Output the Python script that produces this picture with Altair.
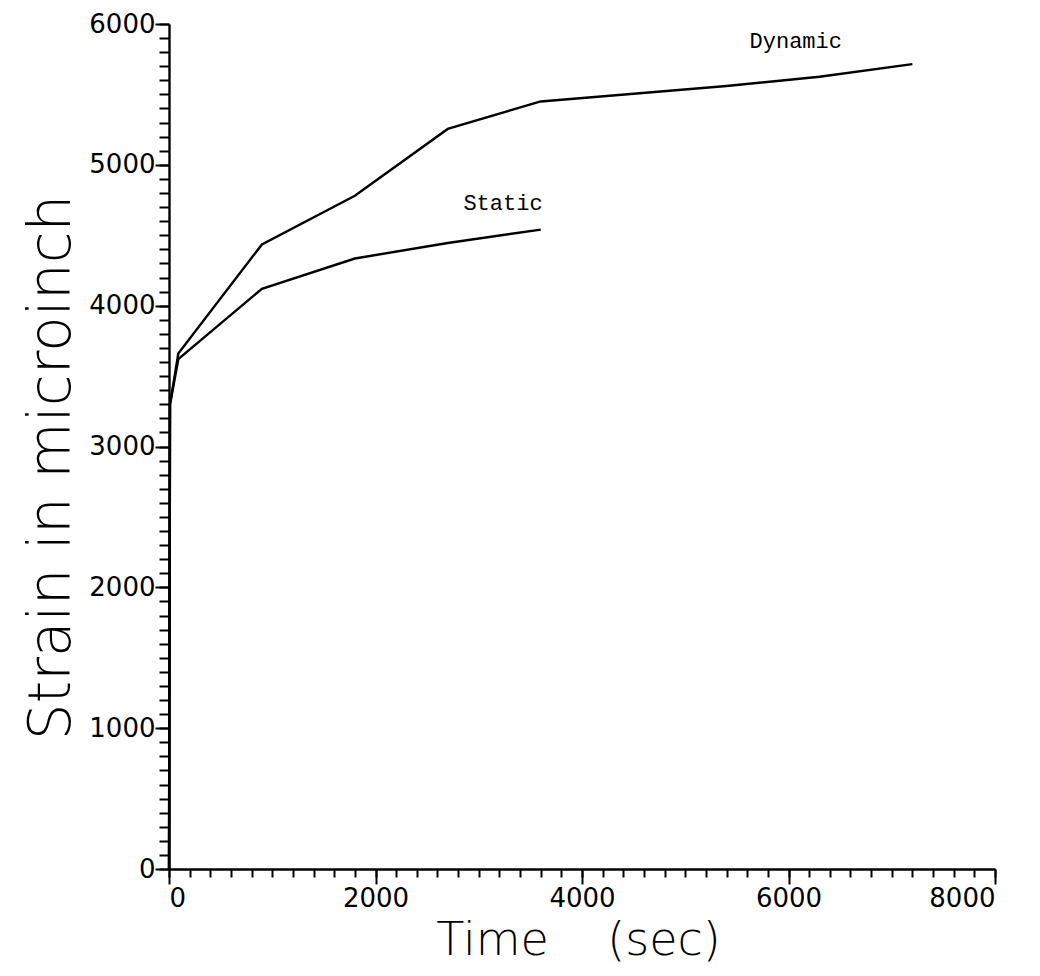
import altair as alt
import pandas as pd

# Dynamic test: time (s) and strain (microinch)
dyn_time = [0, 10, 90, 900, 1800, 2700, 3600, 4500, 5400, 6300, 7200]
dyn_strain = [0, 3300, 3660, 4435, 4780, 5255, 5450, 5505, 5560, 5625, 5715]

# Static test
sta_time = [0, 10, 90, 900, 1800, 2700, 3600]
sta_strain = [0, 3300, 3620, 4120, 4335, 4445, 4540]

# Curve labels
label_text = ["Dynamic", "Static"]
label_time = [6070, 3235]
label_strain = [5880, 4730]

# Axis ticks
x_major = [0, 2000, 4000, 6000, 8000]
x_minor = list(range(0, 8001, 200))
y_major = [0, 1000, 2000, 3000, 4000, 5000, 6000]
y_minor = list(range(0, 6001, 100))

rows = []
for t, s in zip(dyn_time, dyn_strain):
    rows.append({"time": t, "strain": s, "series": "Dynamic"})
for t, s in zip(sta_time, sta_strain):
    rows.append({"time": t, "strain": s, "series": "Static"})
df = pd.DataFrame(rows)
lab = pd.DataFrame({"time": label_time, "strain": label_strain, "label": label_text})

FONT = "DejaVu Sans"
xscale = alt.Scale(domain=[0, 8000], nice=False, zero=False)
yscale = alt.Scale(domain=[0, 6000], nice=False, zero=False)

minor = alt.Chart(df).mark_point(opacity=0).encode(
    x=alt.X("time:Q", scale=xscale,
            axis=alt.Axis(values=x_minor, labels=False, domain=False, grid=False,
                          tickSize=8, tickWidth=2, tickColor="black", title=None,
                          orient="bottom")),
    y=alt.Y("strain:Q", scale=yscale,
            axis=alt.Axis(values=y_minor, labels=False, domain=False, grid=False,
                          tickSize=10, tickWidth=2, tickColor="black", title=None,
                          orient="left")),
)

lines = alt.Chart(df).mark_line(color="black", strokeWidth=2.4).encode(
    x=alt.X("time:Q", scale=xscale,
            axis=alt.Axis(values=x_major, format="d", grid=False, orient="bottom",
                          tickSize=15, tickWidth=2, tickColor="black",
                          domainColor="black", domainWidth=2.4,
                          labelFont=FONT, labelFontSize=26, labelFontWeight="normal",
                          labelColor="black", labelPadding=1,
                          title="Time\u00a0\u00a0\u00a0\u00a0(sec)",
                          titleFont=FONT, titleFontSize=46, titleFontWeight=200,
                          titleColor="black", titleBaseline="alphabetic",
                          titleY=85, titleX=409)),
    y=alt.Y("strain:Q", scale=yscale,
            axis=alt.Axis(values=y_major, format="d", grid=False, orient="left",
                          tickSize=14, tickWidth=2, tickColor="black",
                          domainColor="black", domainWidth=2.4,
                          labelFont=FONT, labelFontSize=26, labelFontWeight="normal",
                          labelColor="black", labelPadding=0,
                          title="Strain in microinch",
                          titleFont=FONT, titleFontSize=58, titleFontWeight=200,
                          titleColor="black", titleBaseline="alphabetic",
                          titleX=-100, titleY=443)),
    detail="series:N",
)

texts = alt.Chart(lab).mark_text(font="Liberation Mono", fontSize=22, color="black").encode(
    x=alt.X("time:Q", scale=xscale, axis=None),
    y=alt.Y("strain:Q", scale=yscale, axis=None),
    text="label:N",
)

chart = alt.layer(minor, lines, texts).resolve_axis(
    x="independent", y="independent"
).properties(
    width=826, height=845,
    background="white",
    autosize=alt.AutoSizeParams(type="none"),
    padding={"left": 161, "top": 16, "right": 37, "bottom": 99},
).configure_view(stroke=None)

chart.save("out.html", embed_options={"renderer": "svg", "actions": False})
